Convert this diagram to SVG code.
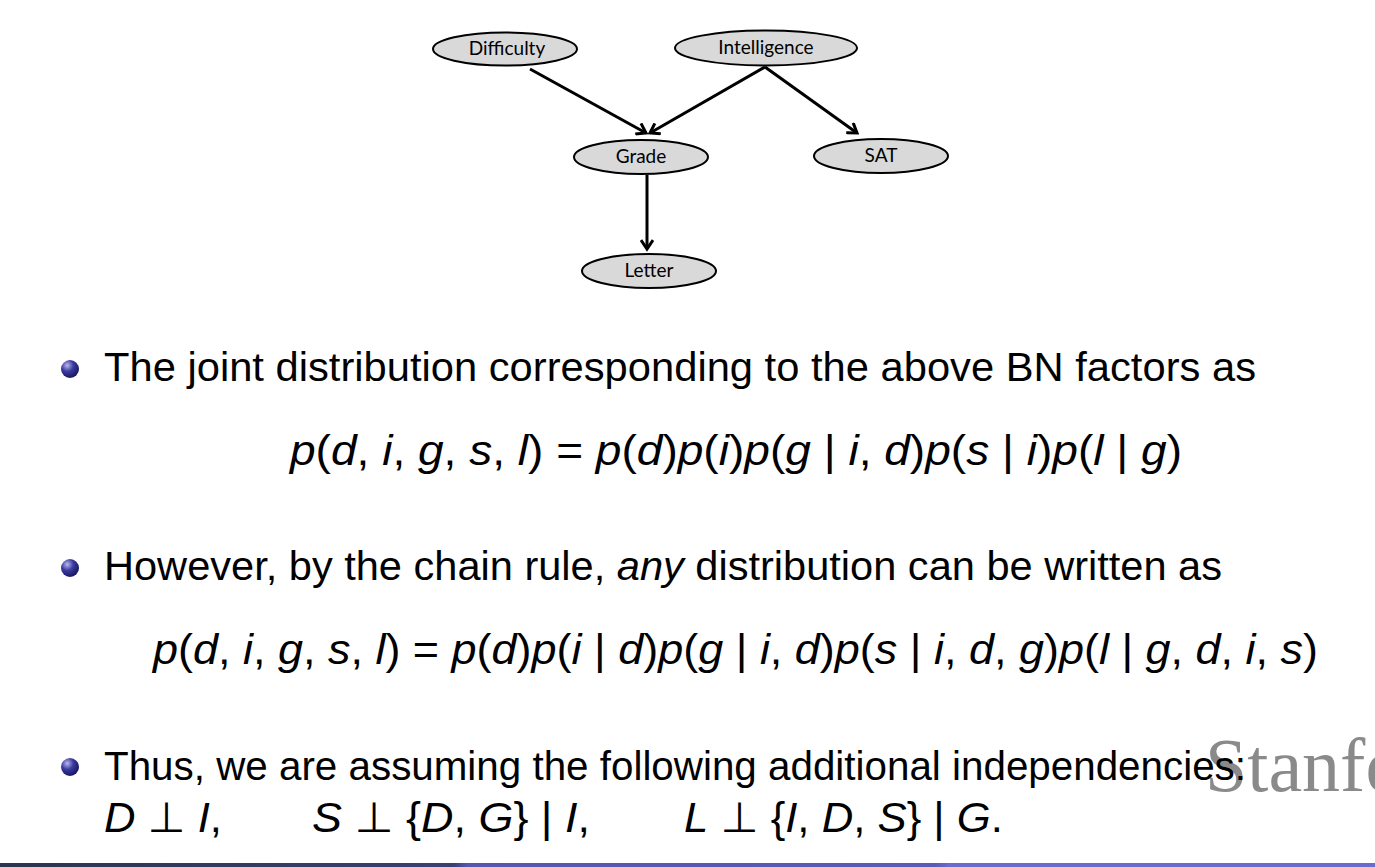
<svg xmlns="http://www.w3.org/2000/svg" width="1375" height="867" viewBox="0 0 1375 867">
<style>
.node ellipse{fill:#d9d9d9;stroke:#000;stroke-width:2}
.node text{font-family:Lato,"Open Sans","Liberation Sans",sans-serif;font-size:19px;fill:#000;text-anchor:middle}
.edge{stroke:#000;stroke-width:3;fill:none;marker-end:url(#arr)}
.body{font-family:"Liberation Sans","DejaVu Sans",sans-serif;font-size:40px;fill:#000}
.math{font-family:"Liberation Sans","DejaVu Sans",sans-serif;font-size:42px;fill:#000}
.it{font-style:italic}
</style>
<defs>
<marker id="arr" markerWidth="14" markerHeight="14" refX="10" refY="7" orient="auto" markerUnits="userSpaceOnUse">
<path d="M1,1 L10,7 L1,13" fill="none" stroke="#000" stroke-width="3"/>
</marker>
<radialGradient id="ball" cx="0.35" cy="0.3" r="0.75">
<stop offset="0" stop-color="#b8b8f0"/>
<stop offset="0.45" stop-color="#3b3ba0"/>
<stop offset="1" stop-color="#14145a"/>
</radialGradient>
<linearGradient id="bar" x1="0" y1="0" x2="1" y2="0">
<stop offset="0" stop-color="#2c3350"/>
<stop offset="0.33" stop-color="#3a4070"/>
<stop offset="0.34" stop-color="#5656b0"/>
<stop offset="0.68" stop-color="#5a5ab8"/>
<stop offset="0.69" stop-color="#6a6ad0"/>
<stop offset="1" stop-color="#6a6ad0"/>
</linearGradient>
</defs>
<rect width="1375" height="867" fill="#fff"/>
<g id="connectors">
<line class="edge" x1="530" y1="69" x2="646" y2="133"/>
<line class="edge" x1="765" y1="67" x2="650" y2="133"/>
<line class="edge" x1="765" y1="67" x2="857" y2="133"/>
<line class="edge" x1="647" y1="175" x2="647" y2="249"/>
</g>
<g id="node-difficulty" class="node"><ellipse cx="505" cy="49" rx="72" ry="16.5"/><text x="507" y="55">Difficulty</text></g>
<g id="node-intelligence" class="node"><ellipse cx="766" cy="48" rx="91" ry="17.5"/><text x="766" y="54">Intelligence</text></g>
<g id="node-grade" class="node"><ellipse cx="641" cy="157" rx="67" ry="17"/><text x="641" y="163">Grade</text></g>
<g id="node-sat" class="node"><ellipse cx="881" cy="156" rx="67" ry="17"/><text x="881" y="162">SAT</text></g>
<g id="node-letter" class="node"><ellipse cx="649" cy="271" rx="67" ry="17"/><text x="649" y="277">Letter</text></g>
<text x="1205" y="791" font-family="'Liberation Serif',serif" font-size="76" fill="#8a8a8a">Stanfo</text>
<circle cx="70" cy="369" r="9" fill="url(#ball)"/>
<circle cx="70" cy="568" r="9" fill="url(#ball)"/>
<circle cx="70" cy="767" r="9" fill="url(#ball)"/>
<text class="body" x="104" y="381" textLength="1152" lengthAdjust="spacingAndGlyphs">The joint distribution corresponding to the above BN factors as</text>
<text class="math" x="290" y="465" textLength="892" lengthAdjust="spacingAndGlyphs"><tspan class="it">p</tspan>(<tspan class="it">d</tspan>, <tspan class="it">i</tspan>, <tspan class="it">g</tspan>, <tspan class="it">s</tspan>, <tspan class="it">l</tspan>) = <tspan class="it">p</tspan>(<tspan class="it">d</tspan>)<tspan class="it">p</tspan>(<tspan class="it">i</tspan>)<tspan class="it">p</tspan>(<tspan class="it">g</tspan> | <tspan class="it">i</tspan>, <tspan class="it">d</tspan>)<tspan class="it">p</tspan>(<tspan class="it">s</tspan> | <tspan class="it">i</tspan>)<tspan class="it">p</tspan>(<tspan class="it">l</tspan> | <tspan class="it">g</tspan>)</text>
<text class="body" x="104" y="580" textLength="1118" lengthAdjust="spacingAndGlyphs">However, by the chain rule, <tspan class="it">any</tspan> distribution can be written as</text>
<text class="math" x="153" y="664" textLength="1165" lengthAdjust="spacingAndGlyphs"><tspan class="it">p</tspan>(<tspan class="it">d</tspan>, <tspan class="it">i</tspan>, <tspan class="it">g</tspan>, <tspan class="it">s</tspan>, <tspan class="it">l</tspan>) = <tspan class="it">p</tspan>(<tspan class="it">d</tspan>)<tspan class="it">p</tspan>(<tspan class="it">i</tspan> | <tspan class="it">d</tspan>)<tspan class="it">p</tspan>(<tspan class="it">g</tspan> | <tspan class="it">i</tspan>, <tspan class="it">d</tspan>)<tspan class="it">p</tspan>(<tspan class="it">s</tspan> | <tspan class="it">i</tspan>, <tspan class="it">d</tspan>, <tspan class="it">g</tspan>)<tspan class="it">p</tspan>(<tspan class="it">l</tspan> | <tspan class="it">g</tspan>, <tspan class="it">d</tspan>, <tspan class="it">i</tspan>, <tspan class="it">s</tspan>)</text>
<text class="body" x="104" y="780" textLength="1142" lengthAdjust="spacingAndGlyphs">Thus, we are assuming the following additional independencies:</text>
<text class="math" x="104" y="832" textLength="118" lengthAdjust="spacingAndGlyphs"><tspan class="it">D</tspan> ⊥ <tspan class="it">I</tspan>,</text>
<text class="math" x="312" y="832" textLength="278" lengthAdjust="spacingAndGlyphs"><tspan class="it">S</tspan> ⊥ {<tspan class="it">D</tspan>, <tspan class="it">G</tspan>} | <tspan class="it">I</tspan>,</text>
<text class="math" x="684" y="832" textLength="319" lengthAdjust="spacingAndGlyphs"><tspan class="it">L</tspan> ⊥ {<tspan class="it">I</tspan>, <tspan class="it">D</tspan>, <tspan class="it">S</tspan>} | <tspan class="it">G</tspan>.</text>
<rect x="0" y="863" width="1375" height="4" fill="url(#bar)"/>
</svg>
